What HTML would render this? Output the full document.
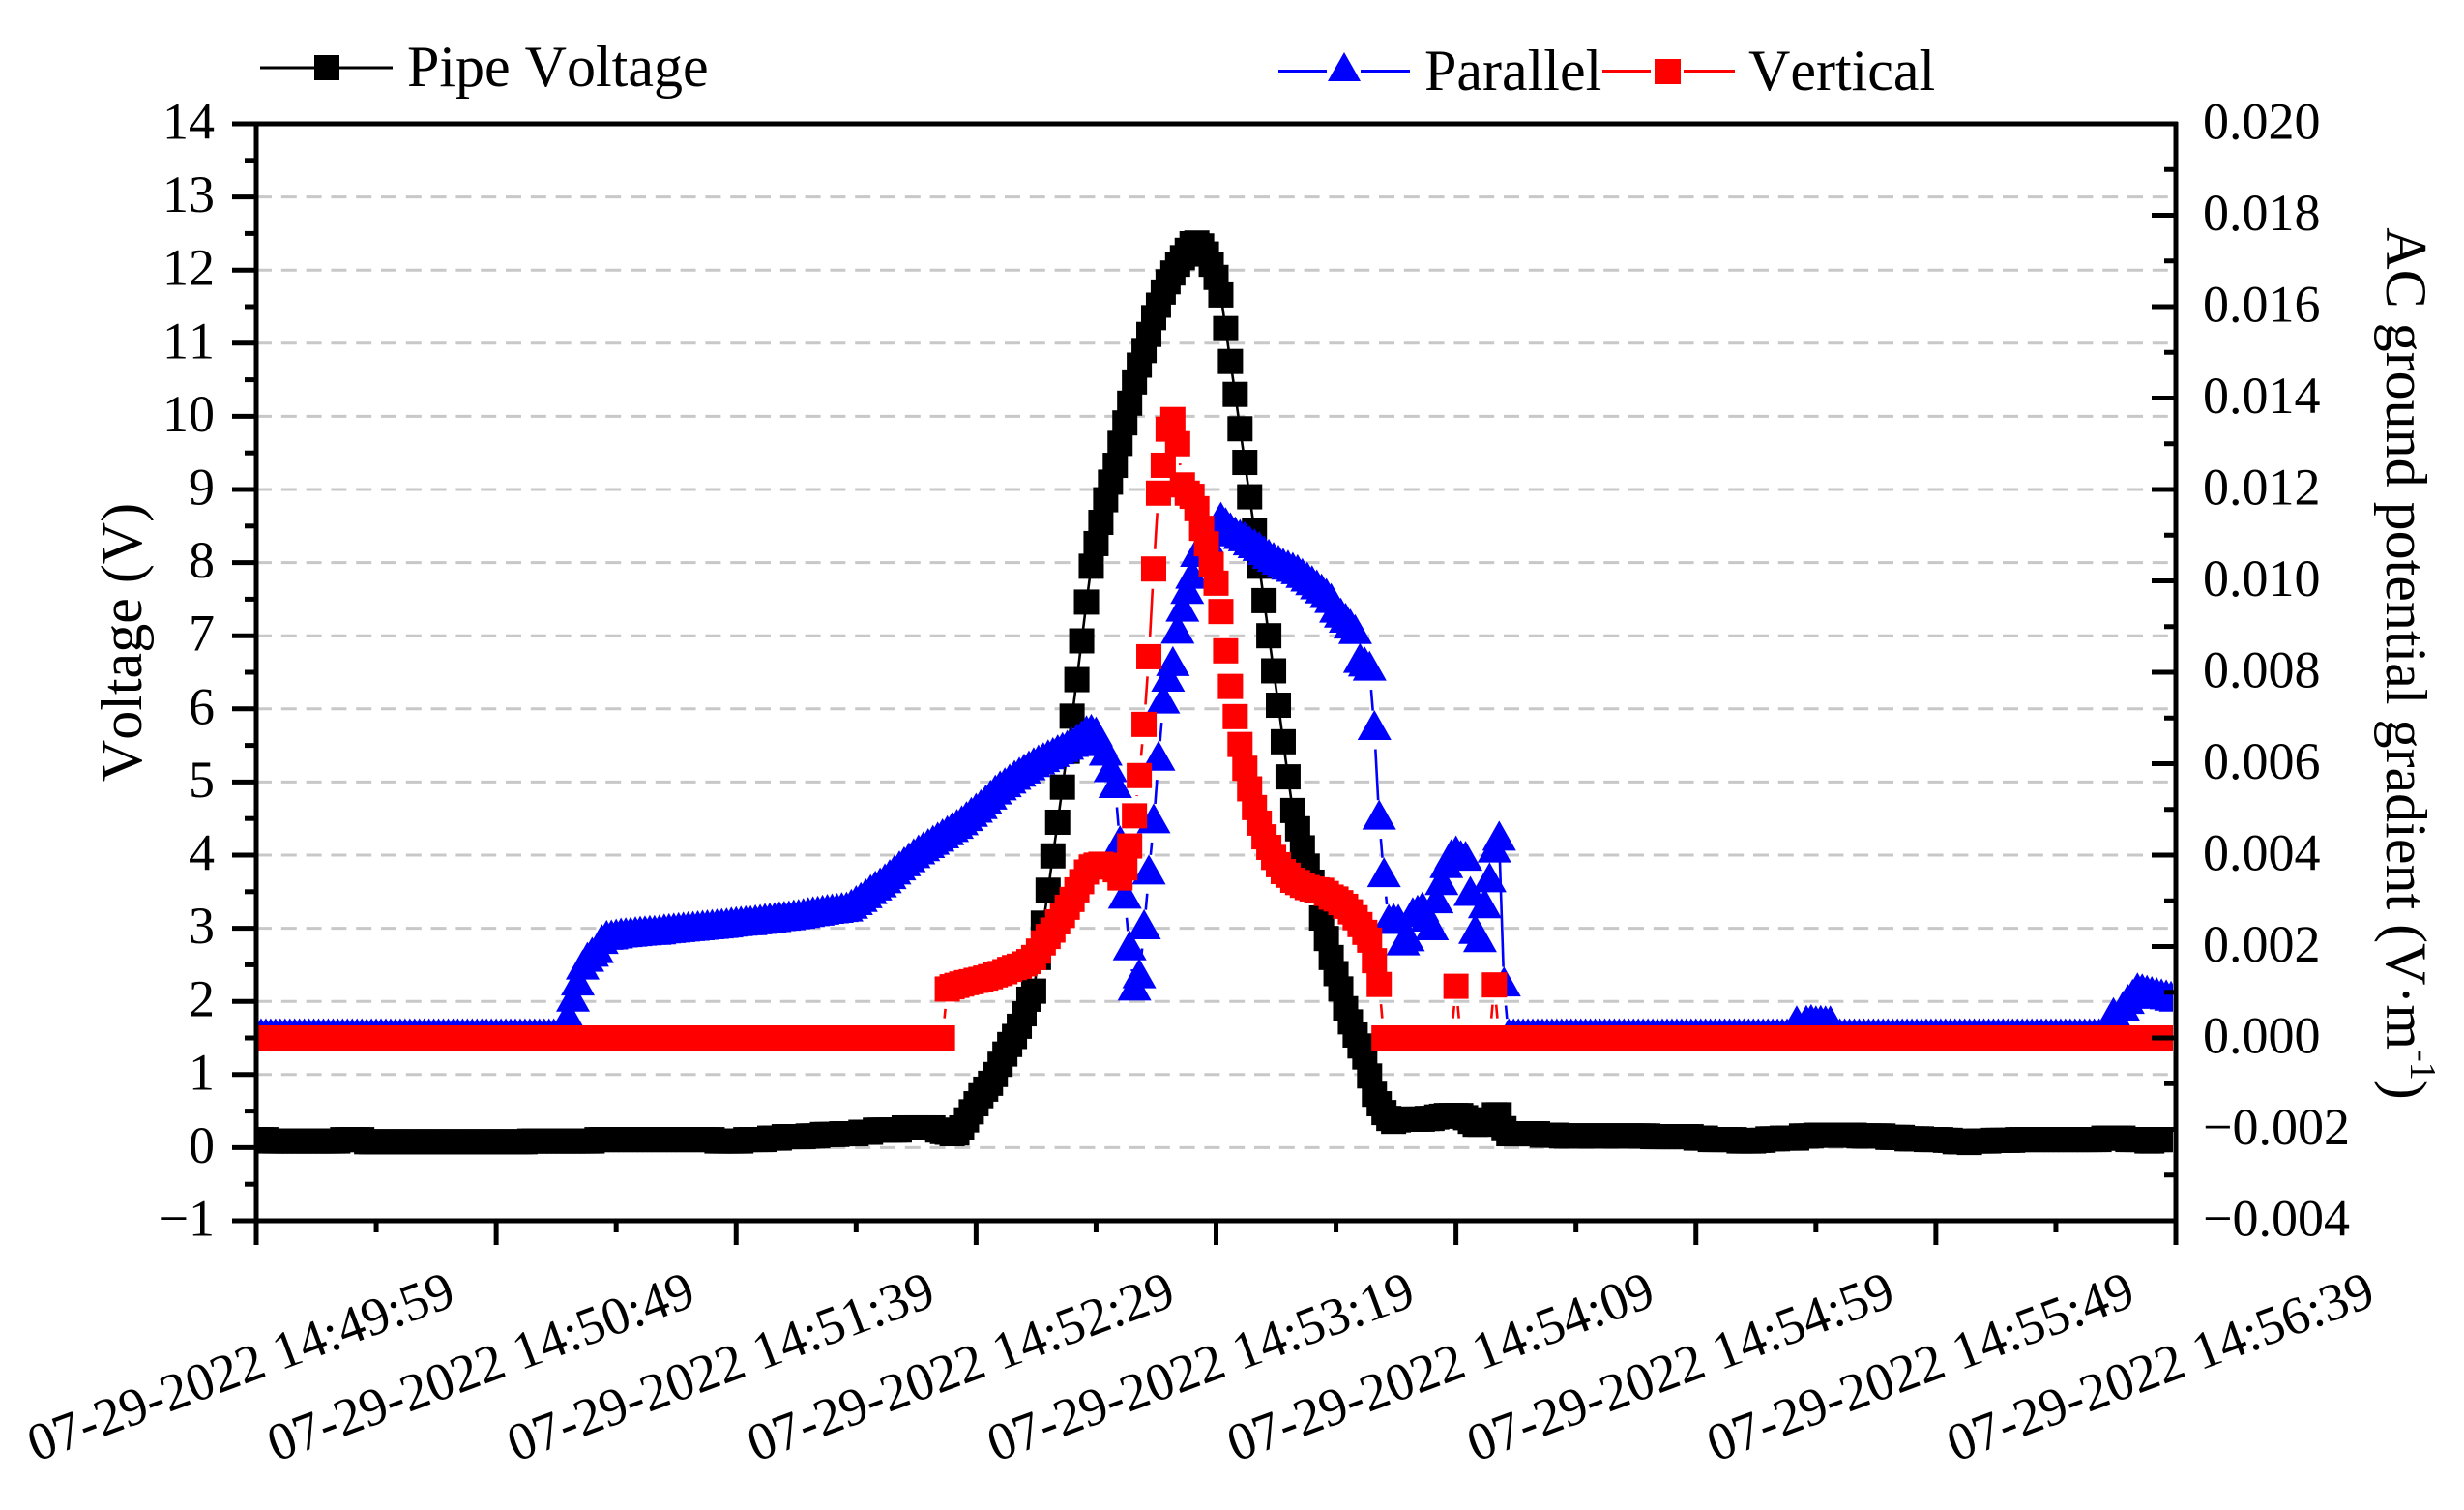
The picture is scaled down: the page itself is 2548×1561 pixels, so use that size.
<!DOCTYPE html>
<html lang="en">
<head>
<meta charset="utf-8">
<title>Pipe voltage and AC ground potential gradient</title>
<style>
html,body{margin:0;padding:0;background:#fff;}
svg{display:block;font-family:"Liberation Serif",serif;fill:#000;font-kerning:none;}
</style>
</head>
<body>
<svg id="chart" xmlns="http://www.w3.org/2000/svg" width="2548" height="1561" viewBox="0 0 2548 1561">
  <defs>
    <clipPath id="plot-clip"><rect x="265" y="128" width="1982" height="1134"></rect></clipPath>
  </defs>
  <rect x="0" y="0" width="2548" height="1561" fill="#fff"></rect>
  <g id="grid"></g>
  <g id="series" clip-path="url(#plot-clip)"></g>
  <g id="axes"></g>

  <text transform="translate(146 664) rotate(-90)" text-anchor="middle" font-size="60">Voltage (V)</text>
  <text transform="translate(2468 686) rotate(90)" text-anchor="middle" font-size="60">AC ground potential gradient (V·m<tspan font-size="38" dy="-25">-1</tspan><tspan dy="25">)</tspan></text>

  <g>
    <line x1="269" y1="70" x2="406" y2="70" stroke="#000" stroke-width="3"></line>
    <rect x="325" y="57" width="26" height="26" fill="#000"></rect>
    <text x="421" y="89" font-size="60">Pipe Voltage</text>
  </g>
  <g>
    <line x1="1322" y1="73.5" x2="1372" y2="73.5" stroke="#00f" stroke-width="3"></line>
    <line x1="1407" y1="73.5" x2="1458" y2="73.5" stroke="#00f" stroke-width="3"></line>
    <polygon points="1390,54 1373,84 1407,84" fill="#00f"></polygon>
    <text x="1473" y="93" font-size="60">Parallel</text>
  </g>
  <g>
    <line x1="1657" y1="73.5" x2="1707" y2="73.5" stroke="#f00" stroke-width="3"></line>
    <line x1="1741" y1="73.5" x2="1794" y2="73.5" stroke="#f00" stroke-width="3"></line>
    <rect x="1711" y="61" width="27" height="26" fill="#f00"></rect>
    <text x="1808" y="93" font-size="60">Vertical</text>
  </g>
</svg>

<script>
// Tick labels
const timeLabels = ["07-29-2022 14:49:59","07-29-2022 14:50:49","07-29-2022 14:51:39","07-29-2022 14:52:29","07-29-2022 14:53:19","07-29-2022 14:54:09","07-29-2022 14:54:59","07-29-2022 14:55:49","07-29-2022 14:56:39"];
const timeTickSeconds = [0,50,100,150,200,250,300,350,400];
const leftTicks = [-1,0,1,2,3,4,5,6,7,8,9,10,11,12,13,14];
const leftLabels = ["\u22121","0","1","2","3","4","5","6","7","8","9","10","11","12","13","14"];
const gridValues = [0,1,2,3,4,5,6,7,8,9,10,11,12,13];
const rightTicks = [-0.004,-0.002,0,0.002,0.004,0.006,0.008,0.01,0.012,0.014,0.016,0.018,0.02];
const rightLabels = ["\u22120.004","\u22120.002","0.000","0.002","0.004","0.006","0.008","0.010","0.012","0.014","0.016","0.018","0.020"];

// One sample per second, 401 samples, ten per row
const pipeVoltage = [
.11,.11,.11,.09,.09,.09,.09,.09,.09,.09,
.09,.09,.09,.09,.09,.09,.09,.09,.11,.11,
.11,.11,.11,.08,.08,.08,.08,.08,.08,.08,
.08,.08,.08,.08,.08,.08,.08,.08,.08,.08,
.08,.08,.08,.08,.08,.08,.08,.08,.08,.08,
.08,.08,.08,.08,.08,.08,.08,.09,.09,.09,
.09,.09,.09,.09,.09,.09,.09,.09,.09,.09,
.09,.11,.11,.11,.11,.11,.11,.11,.11,.11,
.11,.11,.11,.11,.11,.11,.11,.11,.11,.11,
.11,.11,.11,.11,.11,.11,.09,.09,.09,.09,
.09,.09,.11,.11,.11,.11,.11,.13,.13,.13,
.15,.15,.15,.15,.15,.16,.16,.16,.18,.18,
.18,.18,.19,.19,.19,.19,.21,.21,.21,.24,
.24,.24,.24,.24,.24,.27,.27,.27,.27,.27,
.27,.27,.24,.22,.21,.19,.20,.27,.38,.49,
.60,.71,.80,.88,1.00,1.14,1.28,1.41,1.52,1.66,
1.83,2.03,2.14,2.60,3.07,3.52,3.99,4.45,4.93,5.42,
5.90,6.40,6.93,7.46,7.95,8.26,8.55,8.86,9.10,9.33,
9.63,9.91,10.18,10.47,10.70,10.90,11.12,11.35,11.52,11.70,
11.84,11.96,12.08,12.17,12.27,12.36,12.37,12.33,12.22,12.08,
11.90,11.66,11.20,10.75,10.30,9.83,9.37,8.90,8.44,7.95,
7.48,7.00,6.52,6.05,5.55,5.07,4.61,4.36,4.10,3.85,
3.63,3.52,3.14,2.86,2.60,2.38,2.17,1.90,1.72,1.54,
1.39,1.24,.98,.73,.60,.48,.40,.36,.38,.39,
.39,.39,.39,.39,.40,.40,.42,.43,.44,.44,
.44,.44,.41,.36,.32,.32,.33,.38,.45,.45,
.26,.19,.19,.19,.19,.19,.19,.19,.17,.17,
.17,.17,.16,.16,.16,.16,.16,.16,.16,.16,
.16,.16,.16,.16,.16,.16,.16,.16,.16,.16,
.16,.15,.15,.15,.15,.15,.15,.15,.15,.15,
.13,.13,.13,.11,.11,.11,.11,.11,.11,.09,
.09,.09,.09,.10,.10,.12,.12,.12,.13,.13,
.13,.13,.16,.16,.16,.17,.17,.17,.17,.17,
.17,.17,.17,.17,.16,.16,.16,.16,.16,.16,
.14,.14,.14,.14,.12,.12,.12,.12,.11,.11,
.11,.11,.10,.10,.08,.08,.08,.07,.09,.09,
.09,.09,.10,.10,.10,.10,.10,.11,.11,.11,
.11,.11,.11,.11,.11,.11,.11,.11,.11,.11,
.11,.11,.11,.11,.11,.13,.13,.13,.13,.13,
.11,.11,.11,.11,.09,.09,.11,.11,.11,.11,
.11
];

const parallelGradient = [
0,0,0,0,0,0,0,0,0,0,
0,0,0,0,0,0,0,0,0,0,
0,0,0,0,0,0,0,0,0,0,
0,0,0,0,0,0,0,0,0,0,
0,0,0,0,0,0,0,0,0,0,
0,0,0,0,0,0,0,0,0,0,
0,0,0,0,0,.0004,.0008,.00115,.0015,.00167,
.00178,.00186,.00206,.00215,.00216,.00218,.0022,.00221,.00222,.00223,
.00224,.00225,.00226,.00226,.00227,.00229,.0023,.00231,.00232,.00233,
.00234,.00235,.00236,.00237,.00238,.00239,.0024,.00241,.00242,.00244,
.00245,.00246,.00247,.00247,.00249,.0025,.00252,.00253,.00254,.00256,
.00257,.00258,.0026,.00261,.00263,.00265,.00267,.00268,.0027,.00272,
.00273,.00274,.00276,.00277,.00283,.00291,.00298,.00306,.00315,.00323,
.0033,.00339,.00348,.00358,.00367,.00376,.00385,.00394,.00402,.00409,
.00416,.00423,.0043,.00437,.00444,.00451,.00458,.00466,.00475,.00484,
.00493,.00501,.00511,.00522,.00533,.00542,.00549,.00557,.00565,.00572,
.00579,.00586,.00593,.00599,.00604,.0061,.00615,.00621,.00626,.00631,
.00637,.00645,.00652,.00663,.00666,.0066,.00639,.00618,.00582,.00547,
.00422,.00305,.00192,.00104,.00131,.00238,.00358,.0047,.00607,.00732,
.0078,.00814,.00885,.00933,.00972,.01005,.01053,.0107,.01085,.011,
.0111,.0113,.01118,.01107,.01098,.01092,.01087,.01078,.01072,.01066,
.01057,.01049,.01042,.01036,.01029,.01025,.0102,.01015,.01007,.00999,
.00991,.00982,.00973,.00963,.00952,.00931,.0092,.00909,.00896,.00884,
.00821,.00813,.00804,.00674,.00478,.00352,.0025,.00252,.0025,.00203,
.00212,.00265,.0027,.00277,.00255,.00236,.00295,.00335,.00372,.00392,
.004,.0039,.00388,.00311,.00228,.0021,.00284,.00341,.00406,.00432,
.00113,0,0,0,0,0,0,0,0,0,
0,0,0,0,0,0,0,0,0,0,
0,0,0,0,0,0,0,0,0,0,
0,0,0,0,0,0,0,0,0,0,
0,0,0,0,0,0,0,0,0,0,
0,0,0,0,0,0,0,0,0,0,
0,.00028,0,.00029,.00031,.00028,.00029,.00028,.00028,0,
0,0,0,0,0,0,0,0,0,0,
0,0,0,0,0,0,0,0,0,0,
0,0,0,0,0,0,0,0,0,0,
0,0,0,0,0,0,0,0,0,0,
0,0,0,0,0,0,0,0,0,0,
0,0,0,0,0,0,0,.00046,.0003,.0006,
.00075,.00086,.001,.00098,.00095,.00092,.0009,.00087,.00085,.00082,
.0008
];

const verticalGradient = [
0,0,0,0,0,0,0,0,0,0,
0,0,0,0,0,0,0,0,0,0,
0,0,0,0,0,0,0,0,0,0,
0,0,0,0,0,0,0,0,0,0,
0,0,0,0,0,0,0,0,0,0,
0,0,0,0,0,0,0,0,0,0,
0,0,0,0,0,0,0,0,0,0,
0,0,0,0,0,0,0,0,0,0,
0,0,0,0,0,0,0,0,0,0,
0,0,0,0,0,0,0,0,0,0,
0,0,0,0,0,0,0,0,0,0,
0,0,0,0,0,0,0,0,0,0,
0,0,0,0,0,0,0,0,0,0,
0,0,0,0,0,0,0,0,0,0,
0,0,0,0,.00107,.00112,.00115,.00118,.00121,.00123,
.00126,.00128,.00131,.00134,.00138,.00141,.00145,.0015,.00154,.00157,
.00162,.00167,.00176,.0019,.00208,.00222,.00236,.00254,.00268,.00286,
.00303,.00324,.00342,.00363,.00374,.00378,.0038,.00378,.00375,.00368,
.0035,.00372,.0042,.00486,.00574,.00686,.00834,.01026,.01192,.01253,
.01332,.01353,.013,.0121,.01192,.01185,.01158,.01115,.01081,.01036,
.00995,.00933,.00847,.00769,.00703,.00642,.0059,.00545,.00504,.0047,
.0044,.00417,.00395,.00379,.00364,.00356,.00345,.0034,.00334,.00329,
.00326,.00324,.00323,.00316,.00308,.00304,.00296,.00288,.00276,.00263,
.00248,.00231,.00214,.00169,.00117,0,0,0,0,0,
0,0,0,0,0,0,0,0,0,0,
.00113,0,0,0,0,0,0,0,.00116,0,
0,0,0,0,0,0,0,0,0,0,
0,0,0,0,0,0,0,0,0,0,
0,0,0,0,0,0,0,0,0,0,
0,0,0,0,0,0,0,0,0,0,
0,0,0,0,0,0,0,0,0,0,
0,0,0,0,0,0,0,0,0,0,
0,0,0,0,0,0,0,0,0,0,
0,0,0,0,0,0,0,0,0,0,
0,0,0,0,0,0,0,0,0,0,
0,0,0,0,0,0,0,0,0,0,
0,0,0,0,0,0,0,0,0,0,
0,0,0,0,0,0,0,0,0,0,
0,0,0,0,0,0,0,0,0,0,
0,0,0,0,0,0,0,0,0,0,
0
];

const SVG_NS = "http://www.w3.org/2000/svg";
const PLOT_LEFT = 265, PLOT_RIGHT = 2250, PLOT_TOP = 128, PLOT_BOTTOM = 1262;
const X_SPAN = 400;

function xAt(sec) { return PLOT_LEFT + (PLOT_RIGHT - PLOT_LEFT) * sec / X_SPAN; }
function yLeft(v) { return PLOT_BOTTOM - (v + 1) / 15 * (PLOT_BOTTOM - PLOT_TOP); }
function yRight(g) { return PLOT_BOTTOM - (g + 0.004) / 0.024 * (PLOT_BOTTOM - PLOT_TOP); }
function make(tag, parent) {
  const node = document.createElementNS(SVG_NS, tag);
  parent.appendChild(node);
  return node;
}
function axisLine(parent, name, x1, y1, x2, y2) {
  const l = make("line", parent);
  
  
  l.setAttribute("x1", x1);
  l.setAttribute("y1", y1);
  l.setAttribute("x2", x2);
  l.setAttribute("y2", y2);
  l.setAttribute("stroke", "#000");
  l.setAttribute("stroke-width", "5");
  return l;
}

// Gridlines
const gridGroup = document.getElementById("grid");
gridValues.forEach(function (v) {
  const g = make("line", gridGroup);
  
  
  g.setAttribute("x1", PLOT_LEFT);
  g.setAttribute("x2", 2242);
  g.setAttribute("y1", yLeft(v));
  g.setAttribute("y2", yLeft(v));
  g.setAttribute("stroke", "#c8c8c8");
  g.setAttribute("stroke-width", "3");
  g.setAttribute("stroke-dasharray", "16 9.8");
});

// Series drawing
const seriesGroup = document.getElementById("series");

function drawLine(values, yFn, color, gap, name) {
  const group = make("g", seriesGroup);
  
  
  for (let i = 1; i < values.length; i++) {
    const x0 = xAt(i - 1), y0 = yFn(values[i - 1]);
    const x1 = xAt(i), y1 = yFn(values[i]);
    const len = Math.hypot(x1 - x0, y1 - y0);
    if (len <= gap * 2) continue;
    const ux = (x1 - x0) / len, uy = (y1 - y0) / len;
    const seg = make("line", group);
    seg.setAttribute("x1", x0 + ux * gap);
    seg.setAttribute("y1", y0 + uy * gap);
    seg.setAttribute("x2", x1 - ux * gap);
    seg.setAttribute("y2", y1 - uy * gap);
    seg.setAttribute("stroke", color);
    seg.setAttribute("stroke-width", "2.6");
  }
}

function drawSquares(values, yFn, color, name) {
  const group = make("g", seriesGroup);
  
  
  group.setAttribute("fill", color);
  values.forEach(function (v, i) {
    const r = make("rect", group);
    r.setAttribute("x", xAt(i) - 13);
    r.setAttribute("y", yFn(v) - 13);
    r.setAttribute("width", 26);
    r.setAttribute("height", 26);
  });
}

function drawTriangles(values, yFn, color, name) {
  const group = make("g", seriesGroup);
  
  
  group.setAttribute("fill", color);
  values.forEach(function (v, i) {
    const px = xAt(i), py = yFn(v);
    const t = make("polygon", group);
    t.setAttribute("points", px + "," + (py - 20.5) + " " + (px - 17.5) + "," + (py + 10.5) + " " + (px + 17.5) + "," + (py + 10.5));
  });
}

drawLine(pipeVoltage, yLeft, "#000", 0, "pipe-voltage-line");
drawSquares(pipeVoltage, yLeft, "#000", "pipe-voltage-markers");
drawLine(parallelGradient, yRight, "#00f", 20, "parallel-line");
drawTriangles(parallelGradient, yRight, "#00f", "parallel-markers");
drawLine(verticalGradient, yRight, "#f00", 20.5, "vertical-line");
drawSquares(verticalGradient, yRight, "#f00", "vertical-markers");

// Axes
const axesGroup = document.getElementById("axes");
axisLine(axesGroup, "plot-top-border", PLOT_LEFT - 25, PLOT_TOP, PLOT_RIGHT + 2, PLOT_TOP);
axisLine(axesGroup, "x-axis-line", PLOT_LEFT - 25, PLOT_BOTTOM, PLOT_RIGHT + 2, PLOT_BOTTOM);
axisLine(axesGroup, "y-axis-left-line", PLOT_LEFT, PLOT_TOP - 2, PLOT_LEFT, PLOT_BOTTOM + 25);
axisLine(axesGroup, "y-axis-right-line", PLOT_RIGHT, PLOT_TOP - 2, PLOT_RIGHT, PLOT_BOTTOM + 25);

leftTicks.forEach(function (v, idx) {
  const y = yLeft(v);
  axisLine(axesGroup, "left-major-tick", PLOT_LEFT - 25, y, PLOT_LEFT, y);
  if (idx < leftTicks.length - 1) {
    const ym = yLeft(v + 0.5);
    axisLine(axesGroup, "left-minor-tick", PLOT_LEFT - 12, ym, PLOT_LEFT, ym);
  }
  const t = make("text", axesGroup);
  
  
  t.setAttribute("x", 222);
  t.setAttribute("y", y + 15.5);
  t.setAttribute("text-anchor", "end");
  t.setAttribute("font-size", "54");
  t.textContent = leftLabels[idx];
});

rightTicks.forEach(function (g, idx) {
  const y = yRight(g);
  if (idx < rightTicks.length - 1) {
    axisLine(axesGroup, "right-major-tick", PLOT_RIGHT - 25, y, PLOT_RIGHT, y);
    const ym = yRight(g + 0.001);
    axisLine(axesGroup, "right-minor-tick", PLOT_RIGHT - 12, ym, PLOT_RIGHT, ym);
  }
  const t = make("text", axesGroup);
  
  
  t.setAttribute("x", 2278);
  t.setAttribute("y", y + 15.5);
  t.setAttribute("font-size", "54");
  t.textContent = rightLabels[idx];
});

timeTickSeconds.forEach(function (sec, idx) {
  const x = xAt(sec);
  axisLine(axesGroup, "x-major-tick", x, PLOT_BOTTOM, x, PLOT_BOTTOM + 25);
  if (idx < timeTickSeconds.length - 1) {
    const xm = xAt(sec + 25);
    axisLine(axesGroup, "x-minor-tick", xm, PLOT_BOTTOM, xm, PLOT_BOTTOM + 12);
  }
  const t = make("text", axesGroup);
  
  
  t.setAttribute("transform", "translate(" + (x - 16) + " 1413) rotate(-20.5)");
  t.setAttribute("y", 18);
  t.setAttribute("text-anchor", "middle");
  t.setAttribute("font-size", "55");
  t.textContent = timeLabels[idx];
});
</script>
</body>
</html>
